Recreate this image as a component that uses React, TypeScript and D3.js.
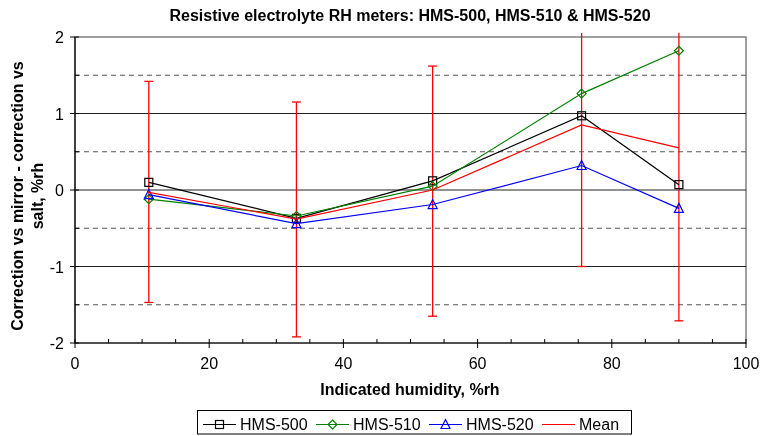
import React from "react";
import * as d3 from "d3";

// values
const humidity = [11, 33, 53.3, 75.5, 90];
const hms500 = [0.1, -0.37, 0.12, 0.97, 0.07];
const hms510 = [-0.12, -0.34, 0.05, 1.26, 1.82];
const hms520 = [-0.06, -0.44, -0.19, 0.32, -0.24];
const meanVals = [-0.03, -0.38, 0.0, 0.85, 0.55];
const errLow = [-1.47, -1.92, -1.65, -1.0, -1.71];
const errHigh = [1.42, 1.15, 1.62, 2.7, 2.81];

const xTicks = [0, 20, 40, 60, 80, 100];
const yTicks = [-2, -1, 0, 1, 2];
const dashedLevels = [-1.5, -0.5, 0.5, 1.5];
const solidLevels = [-1, 0, 1];

const series = [
  { name: "HMS-500", values: hms500, color: "#000000", marker: "square" },
  { name: "HMS-510", values: hms510, color: "#008000", marker: "diamond" },
  { name: "HMS-520", values: hms520, color: "#0000ff", marker: "triangle" },
  { name: "Mean", values: meanVals, color: "#ff0000", marker: "none" },
];

const W = 760;
const H = 436;
const left = 75, right = 746, top = 37, bottom = 343;
const font = "'Liberation Sans', Arial, sans-serif";
const fs = 16;

const Marker = ({ type, x, y, color }: { type: string; x: number; y: number; color: string }) => {
  if (type === "square")
    return <rect x={x - 4} y={y - 4} width={8} height={8} fill="none" stroke={color} strokeWidth={1.2} />;
  if (type === "diamond")
    return <path d={`M${x},${y - 4.5}L${x + 4.5},${y}L${x},${y + 4.5}L${x - 4.5},${y}Z`} fill="none" stroke={color} strokeWidth={1.2} />;
  if (type === "triangle")
    return <path d={`M${x},${y - 5}L${x + 4.5},${y + 4}L${x - 4.5},${y + 4}Z`} fill="none" stroke={color} strokeWidth={1.2} />;
  return null;
};

export default function App() {
  const x = d3.scaleLinear().domain([0, 100]).range([left, right]);
  const y = d3.scaleLinear().domain([-2, 2]).range([bottom, top]);
  const line = d3.line<number>().x((_, i) => x(humidity[i])).y((d) => y(d));
  const minorX = d3.range(0, 101, 5).filter((v) => v % 20 !== 0);
  const minorY = d3.range(-1.5, 2, 1);

  return (
    <div style={{ position: "fixed", left: 0, top: 0, width: W, height: H, overflow: "hidden" }}>
      <svg width={W} height={H} style={{ display: "block", fontFamily: font }}>
        <defs>
          <clipPath id="errclip">
            <rect x={left} y={top - 4} width={right - left} height={bottom - top + 4} />
          </clipPath>
        </defs>
        <text x={410} y={20.5} textAnchor="middle" fontSize={fs} fontWeight="bold">
          Resistive electrolyte RH meters: HMS-500, HMS-510 &amp; HMS-520
        </text>

        {/* plot frame + grid */}
        <rect x={left} y={top} width={right - left} height={bottom - top} fill="none" stroke="#808080" strokeWidth={1.5} />
        {dashedLevels.map((v) => (
          <line key={v} x1={left} x2={right} y1={y(v)} y2={y(v)} stroke="#555" strokeDasharray="5,4" strokeWidth={1} />
        ))}
        {solidLevels.map((v) => (
          <line key={v} x1={left} x2={right} y1={y(v)} y2={y(v)} stroke="#222" strokeWidth={1} />
        ))}

        {/* axes */}
        <line x1={left} x2={left} y1={top} y2={bottom} stroke="#000" strokeWidth={1.2} />
        <line x1={left} x2={right} y1={bottom} y2={bottom} stroke="#000" strokeWidth={1.2} />
        {yTicks.map((v) => (
          <g key={v}>
            <line x1={left - 5} x2={left + 4} y1={y(v)} y2={y(v)} stroke="#000" />
            <text x={left - 11} y={y(v) + 6} textAnchor="end" fontSize={fs}>{v}</text>
          </g>
        ))}
        {minorY.map((v) => (
          <line key={v} x1={left} x2={left + 4} y1={y(v)} y2={y(v)} stroke="#000" />
        ))}
        {xTicks.map((v) => (
          <g key={v}>
            <line x1={x(v)} x2={x(v)} y1={bottom - 4} y2={bottom + 5} stroke="#000" />
            <text x={x(v)} y={bottom + 26} textAnchor="middle" fontSize={fs}>{v}</text>
          </g>
        ))}
        {minorX.map((v) => (
          <line key={v} x1={x(v)} x2={x(v)} y1={bottom - 4} y2={bottom} stroke="#000" />
        ))}

        {/* error bars */}
        <g clipPath="url(#errclip)" stroke="#ff0000" strokeWidth={1.3}>
          {humidity.map((h, i) => (
            <g key={h}>
              <line x1={x(h)} x2={x(h)} y1={y(errLow[i])} y2={y(errHigh[i])} />
              <line x1={x(h) - 4.5} x2={x(h) + 4.5} y1={y(errLow[i])} y2={y(errLow[i])} />
              <line x1={x(h) - 4.5} x2={x(h) + 4.5} y1={y(errHigh[i])} y2={y(errHigh[i])} />
            </g>
          ))}
        </g>

        {/* series */}
        {series.map((s) => (
          <g key={s.name}>
            <path d={line(s.values) || ""} fill="none" stroke={s.color} strokeWidth={1.2} />
            {s.values.map((v, i) => (
              <Marker key={i} type={s.marker} x={x(humidity[i])} y={y(v)} color={s.color} />
            ))}
          </g>
        ))}

        {/* axis titles */}
        <text x={410} y={395} textAnchor="middle" fontSize={fs} fontWeight="bold">
          Indicated humidity, %rh
        </text>
        <text transform={`translate(23,${(top + bottom) / 2 + 6}) rotate(-90)`} textAnchor="middle" fontSize={fs} fontWeight="bold">
          <tspan x={0} dy={0}>Correction vs mirror - correction vs</tspan>
          <tspan x={0} dy={20}>salt, %rh</tspan>
        </text>

        {/* legend */}
        <rect x={197.5} y={410.5} width={434} height={23.5} fill="none" stroke="#000" strokeWidth={1} />
        {series.map((s, i) => {
          const lx = [203, 316, 429, 542][i];
          const ly = 424.5;
          return (
            <g key={s.name}>
              <line x1={lx} x2={lx + 33} y1={ly} y2={ly} stroke={s.color} strokeWidth={1} />
              <Marker type={s.marker} x={lx + 16.5} y={ly} color={s.color} />
              <text x={lx + 37} y={ly + 5.5} fontSize={fs}>{s.name}</text>
            </g>
          );
        })}
      </svg>
    </div>
  );
}
